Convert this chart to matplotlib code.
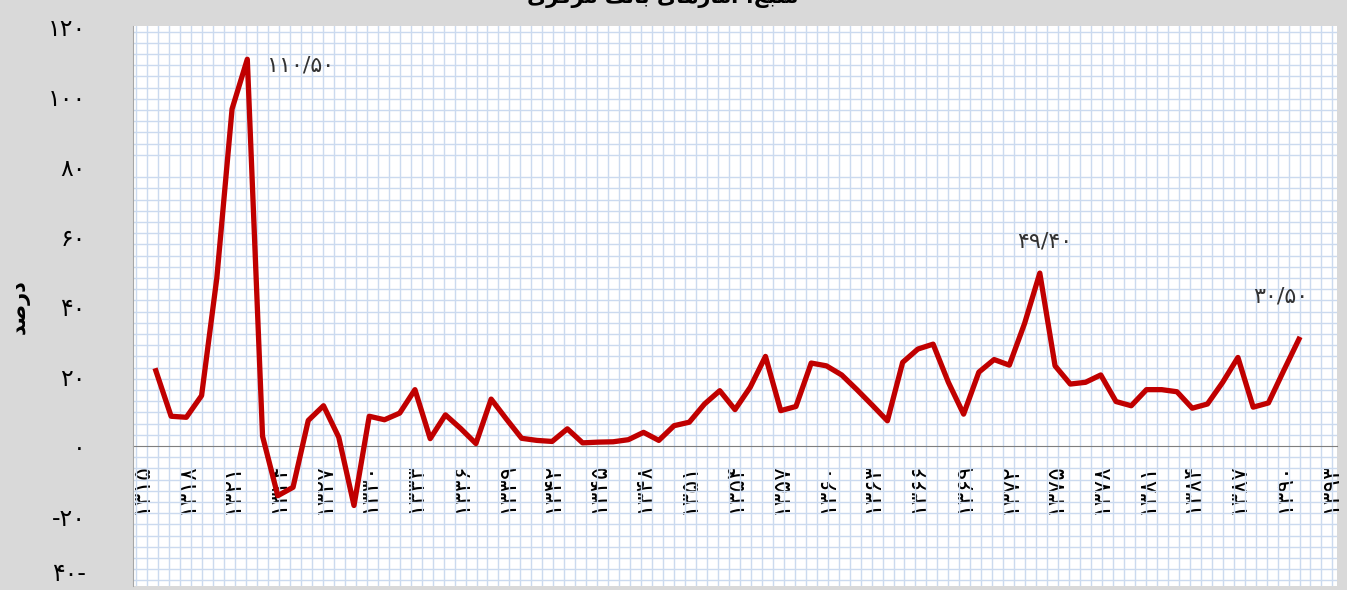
import matplotlib
matplotlib.use("Agg")
import matplotlib.pyplot as plt
import matplotlib.ticker as mticker

# ارقام فارسی
def fa(s):
    return str(s).translate(str.maketrans("0123456789", "۰۱۲۳۴۵۶۷۸۹"))

# داده ها: نرخ تورم سالانه
years = list(range(1316, 1392))
inflation = [21.5, 8.5, 8.2, 14.4, 48.0, 96.3, 110.5, 2.8, -14.2, -11.8,
             7.3, 11.5, 2.5, -17.0, 8.5, 7.5, 9.4, 16.1, 2.1, 8.9,
             5.0, 0.7, 13.4, 7.7, 2.2, 1.6, 1.3, 4.9, 0.9, 1.1,
             1.2, 1.8, 3.9, 1.6, 5.8, 6.8, 12.0, 15.8, 10.4, 16.8,
             25.6, 10.1, 11.3, 23.7, 22.9, 20.3, 16.1, 11.7, 7.2, 23.9,
             27.7, 29.1, 18.2, 9.1, 21.1, 24.7, 23.1, 35.0, 49.4, 22.9,
             17.7, 18.2, 20.3, 12.7, 11.5, 16.1, 16.1, 15.5, 10.8, 12.0,
             18.2, 25.3, 11.1, 12.3, 21.5, 30.5]

tick_years = list(range(1315, 1394, 3))
y_ticks = [-40, -20, 0, 20, 40, 60, 80, 100, 120]
y_labels = ["۴۰-", "-۲۰", "۰", "۲۰", "۴۰", "۶۰", "۸۰", "۱۰۰", "۱۲۰"]

# برچسب نقاط مهم
notes = [(1322, 110.5, "۱۱۰/۵۰"), (1374, 49.4, "۴۹/۴۰"), (1391, 30.5, "۳۰/۵۰")]

# عنوان و محور (شکل نمایشی حروف)
title = "\uFBFC\uFEB0\uFB90\uFEAE\uFEE3 \uFB8F\uFEE7\uFE8E\uFE91 \uFBFC\uFE8E\uFEEB\uFEAD\uFE8E\uFEE3\uFE81 :\uFECA\uFE92\uFEE8\uFEE3"
ylabel = "\uFEAA\uFEBB\uFEAD\uFEA9"

fig = plt.figure(figsize=(13.47, 5.9), dpi=100, facecolor="#d9d9d9")
ax = fig.add_axes([133 / 1347, 4 / 590, 1204 / 1347, 560 / 590])
ax.set_facecolor("white")

# کاغذ شطرنجی
ax.xaxis.set_minor_locator(mticker.MultipleLocator(0.72))
ax.yaxis.set_minor_locator(mticker.MultipleLocator(3.2))
ax.grid(which="minor", color="#cbdaef", linewidth=1.0)
ax.set_axisbelow(True)

ax.plot(years, inflation, color="#c00000", linewidth=3.8, zorder=3)

ax.set_xlim(1314.5, 1393.5)
ax.set_ylim(-40, 120)

ax.spines["top"].set_visible(False)
ax.spines["right"].set_visible(False)
ax.spines["left"].set_color("#a6a6a6")
ax.spines["bottom"].set_position(("data", 0))
ax.spines["bottom"].set_color("#7f7f7f")
ax.spines["bottom"].set_zorder(2)

ax.set_xticks(tick_years)
ax.set_xticklabels([fa(y) for y in tick_years], rotation=90, fontsize=17)
ax.set_yticks(y_ticks)
ax.set_yticklabels(y_labels, fontsize=17)
ax.tick_params(axis="x", which="both", length=0, pad=12)
ax.tick_params(axis="y", which="both", length=0, pad=34)
ax.tick_params(which="minor", labelbottom=False, labelleft=False)
# پایین ترین برچسب کمی بالاتر
ax.get_yticklabels()[0].set_va("bottom")

for x, y, t in notes:
    if x == 1322:
        ax.text(1323.3, 108.7, t, fontsize=16, color="#333333", ha="left", va="center")
    elif x == 1374:
        ax.text(1374.3, 58.3, t, fontsize=16, color="#333333", ha="center", va="center")
    else:
        ax.text(1389.8, 42.6, t, fontsize=16, color="#333333", ha="center", va="center")

fig.text(663 / 1347, 1 - 3 / 590, title, fontsize=15, fontweight="bold",
         ha="center", va="baseline")
fig.text(20 / 1347, 0.48, ylabel, fontsize=15, fontweight="bold",
         rotation=90, ha="center", va="center")

fig.savefig("out.png", dpi=100, facecolor=fig.get_facecolor())
